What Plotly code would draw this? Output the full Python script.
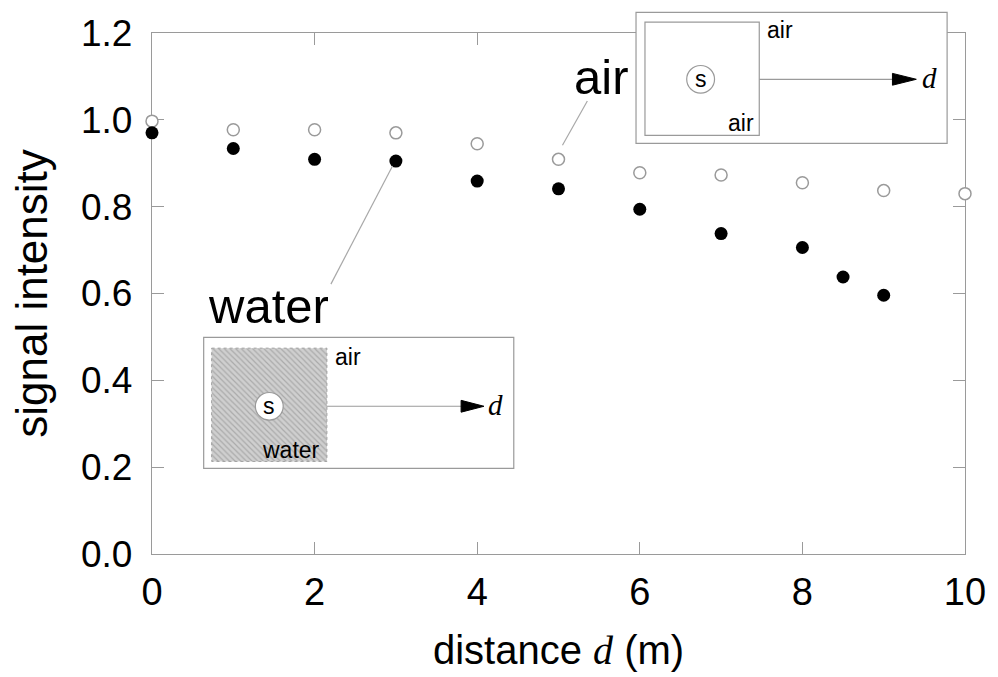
import plotly.graph_objects as go

# ---- data ----
distance_air = [0, 1, 2, 3, 4, 5, 6, 7, 8, 9, 10]
signal_air = [0.997, 0.977, 0.977, 0.970, 0.945, 0.909, 0.878, 0.873, 0.855, 0.837, 0.830]
distance_water = [0, 1, 2, 3, 4, 5, 6, 7, 8, 8.5, 9]
signal_water = [0.970, 0.934, 0.909, 0.905, 0.859, 0.841, 0.794, 0.738, 0.706, 0.638, 0.596]
x_ticks = [0, 2, 4, 6, 8, 10]
x_tick_labels = ["0", "2", "4", "6", "8", "10"]
y_ticks = [0.0, 0.2, 0.4, 0.6, 0.8, 1.0, 1.2]
y_tick_labels = ["0.0", "0.2", "0.4", "0.6", "0.8", "1.0", "1.2"]

# ---- layout geometry (pixels) ----
W, H = 998, 677
L, R, T, B = 152, 970, 33, 562
GREY = "#9a9a9a"
FONT = "Liberation Sans, Arial, sans-serif"
SERIF = "Liberation Serif, Times New Roman, serif"


def px(x):
    return (x - L) / (R - L)


def py(y):
    return (B - y) / (B - T)


fig = go.Figure()

fig.add_trace(go.Scatter(
    x=distance_air, y=signal_air, mode="markers", cliponaxis=False,
    marker=dict(size=12, color="white", line=dict(color=GREY, width=1.5)),
    showlegend=False))
fig.add_trace(go.Scatter(
    x=distance_water, y=signal_water, mode="markers", cliponaxis=False,
    marker=dict(size=13, color="black", line=dict(width=0)),
    showlegend=False))

# hatched "water" square of the lower inset (pixel-coordinate overlay axes)
fig.add_trace(go.Scatter(
    x=[212, 328, 328, 212, 212], y=[353, 353, 468, 468, 353],
    xaxis="x2", yaxis="y2", mode="lines", fill="toself",
    line=dict(color="#a0a0a0", width=1, dash="dot"),
    fillcolor="#cccccc",
    fillpattern=dict(shape="\\", bgcolor="#cfcfcf", fgcolor="#858585", size=4, solidity=0.3),
    hoverinfo="skip", showlegend=False))

shapes = []


def rect(x0, y0, x1, y1, fill="rgba(0,0,0,0)", layer="above", width=1.2, color=GREY):
    shapes.append(dict(type="rect", xref="paper", yref="paper",
                       x0=px(x0), x1=px(x1), y0=py(y0), y1=py(y1),
                       line=dict(color=color, width=width), fillcolor=fill, layer=layer))


def line(x0, y0, x1, y1, color=GREY, width=1.2):
    shapes.append(dict(type="line", xref="paper", yref="paper",
                       x0=px(x0), x1=px(x1), y0=py(y0), y1=py(y1),
                       line=dict(color=color, width=width), layer="above"))


def circle(cx, cy, r):
    shapes.append(dict(type="circle", xref="paper", yref="paper",
                       x0=px(cx - r), x1=px(cx + r), y0=py(cy - r), y1=py(cy + r),
                       line=dict(color=GREY, width=1.2), fillcolor="white", layer="above"))


def tri(xb, y, xt, h):
    path = "M {:.5f},{:.5f} L {:.5f},{:.5f} L {:.5f},{:.5f} Z".format(
        px(xb), py(y - h), px(xt), py(y), px(xb), py(y + h))
    shapes.append(dict(type="path", xref="paper", yref="paper", path=path,
                       fillcolor="black", line=dict(color="black", width=1), layer="above"))


# upper-right inset (air)
rect(639, 12, 952, 145, fill="white")
rect(648, 22, 763, 137)
line(763, 80, 900, 80)
tri(897, 80, 921, 6)
circle(704, 80, 14)

# lower-left inset (water)
rect(204, 342, 516, 475, fill="white", layer="below")
line(328, 412, 466, 412)
tri(463, 412, 486, 6)
circle(270, 412, 14)

# leader lines
line(565, 147, 590, 102, color="#a8a8a8", width=1.2)
line(394, 168, 332, 288, color="#a8a8a8", width=1.2)

ann = []


def text(x, y, s, size, family=FONT, xanchor="center"):
    ann.append(dict(x=px(x), y=py(y), xref="paper", yref="paper", text=s,
                    showarrow=False, xanchor=xanchor, yanchor="middle",
                    font=dict(size=size, family=family, color="black")))


text(604, 78, "air", 49)
text(269, 310, "water", 49)
text(784, 30, "air", 23)
text(745, 124, "air", 23)
text(704, 80, "s", 23)
text(934, 79, "<i>d</i>", 29, family=SERIF)
text(349, 362, "air", 23)
text(292, 456, "water", 23)
text(270, 412, "s", 23)
text(498, 411, "<i>d</i>", 29, family=SERIF)

fig.update_layout(
    width=W, height=H,
    margin=dict(l=L, r=W - R, t=T, b=H - B, pad=0),
    paper_bgcolor="white", plot_bgcolor="white",
    font=dict(family=FONT, color="black"),
    shapes=shapes, annotations=ann,
    xaxis=dict(range=[0, 10], tickvals=x_ticks, ticktext=x_tick_labels,
               ticks="inside", ticklen=12, tickwidth=1.2, tickcolor=GREY,
               showline=True, linecolor=GREY, linewidth=1.3, mirror="ticks",
               showgrid=False, zeroline=False, layer="below traces",
               ticklabelstandoff=4,
               tickfont=dict(size=38, family=FONT, color="black"),
               title=dict(text='distance <span style="font-family:Liberation Serif;font-style:italic">d</span> (m)',
                          font=dict(size=40, family=FONT, color="black"), standoff=24)),
    yaxis=dict(range=[0, 1.2], tickvals=y_ticks, ticktext=y_tick_labels,
               ticks="inside", ticklen=12, tickwidth=1.2, tickcolor=GREY,
               showline=True, linecolor=GREY, linewidth=1.3, mirror="ticks",
               showgrid=False, zeroline=False, layer="below traces",
               ticklabelstandoff=11,
               tickfont=dict(size=37, family=FONT, color="black"),
               title=dict(text="signal intensity",
                          font=dict(size=44, family=FONT, color="black"), standoff=19)),
    xaxis2=dict(range=[L, R], overlaying="x", visible=False, showgrid=False, zeroline=False),
    yaxis2=dict(range=[B, T], overlaying="y", visible=False, showgrid=False, zeroline=False),
)

fig.write_html("out.html")
